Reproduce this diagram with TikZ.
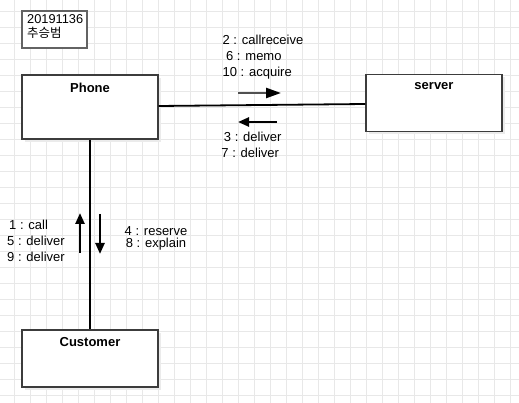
\documentclass[tikz,border=0pt]{standalone}
\usepackage{fontspec}
\setmainfont{Liberation Sans}
\newfontfamily\krfont{Noto Sans CJK KR}
\usetikzlibrary{arrows.meta}
\usetikzlibrary{shadows}

\definecolor{gridgray}{HTML}{E8E8E8}
\definecolor{boxgray}{HTML}{3C3C3C}
\definecolor{shaftgray}{HTML}{505050}

\begin{document}
\begin{tikzpicture}[x=1pt, y=-1pt, font=\fontsize{13}{16}\selectfont]
  \tikzset{objbox/.style={rectangle, draw=boxgray, line width=1.2pt, fill=white,
      minimum width=136pt, drop shadow={shadow xshift=3pt, shadow yshift=-3pt, fill=black!8, opacity=1}}};
  \tikzset{boxtitle/.style={anchor=north, yshift=-6pt, inner sep=2pt, font=\fontsize{13}{16}\selectfont\bfseries}};
  \tikzset{link/.style={line width=1.8pt, black}};
  \tikzset{msg/.style={line width=2.4pt, -{Triangle[length=11pt,width=9pt]}}};
  \useasboundingbox (0,0) rectangle (519,403);

  % grid
  \foreach \gx in {14,30,...,510} \draw[gridgray, line width=0.6pt] (\gx,0) -- (\gx,403);
  \foreach \gy in {11,27,...,395} \draw[gridgray, line width=0.6pt] (0,\gy) -- (519,\gy);

  \node[rectangle, draw=boxgray!80, line width=1.4pt, fill=white, minimum width=65pt, minimum height=37pt] (sid) at (54.5,29.5) {};
  \node[anchor=north west, align=left, inner sep=0pt, font=\fontsize{12.8}{14}\selectfont] at (27,14) {20191136\\{\krfont\fontsize{12.5}{14}\selectfont 추승범}};

  \node[objbox, minimum height=64pt] (phone) at (90,107) {};
  \node[boxtitle] at (phone.north) {Phone};
  \node[objbox, minimum height=57pt] (server) at (434,103) {};
  \node[boxtitle] at (server.north) {server};
  \node[objbox, minimum height=57pt] (customer) at (90,358.5) {};
  \node[boxtitle] at (customer.north) {Customer};

  \draw[link] ([yshift=1pt]phone.east) -- ([yshift=-1pt]server.west);
  \draw[link] (phone.south) -- (customer.north);

  % messages phone -> server
  \coordinate (ps1) at (238,93);  \coordinate (ps2) at (281,93);
  \draw[msg, shaftgray, -{Triangle[length=15pt,width=10pt,color=black]}] (ps1) -- (ps2);
  \node[align=left, inner sep=0pt] (psl) at (263,57) {2 : callreceive\\\hspace{3.5pt}6 : memo\\10 : acquire};

  % messages server -> phone
  \coordinate (sp1) at (277,122);  \coordinate (sp2) at (238,122);
  \draw[msg] (sp1) -- (sp2);
  \node[align=left, inner sep=0pt] (spl) at (251.5,145) {\hspace{2.5pt}3 : deliver\\7 : deliver};

  % messages customer -> phone
  \coordinate (cp1) at (80,253);  \coordinate (cp2) at (80,213);
  \draw[msg] (cp1) -- (cp2);
  \node[align=left, inner sep=0pt] (cpl) at (36,241) {\hspace{2pt}1 : call\\5 : deliver\\9 : deliver};

  % messages phone -> customer
  \coordinate (pc1) at (100,214);  \coordinate (pc2) at (100,254);
  \draw[msg] (pc1) -- (pc2);
  \node[align=center, inner sep=0pt, font=\fontsize{13}{12}\selectfont] (pcl) at (156,238.5) {4 : reserve\\8 : explain};
\end{tikzpicture}
\end{document}
